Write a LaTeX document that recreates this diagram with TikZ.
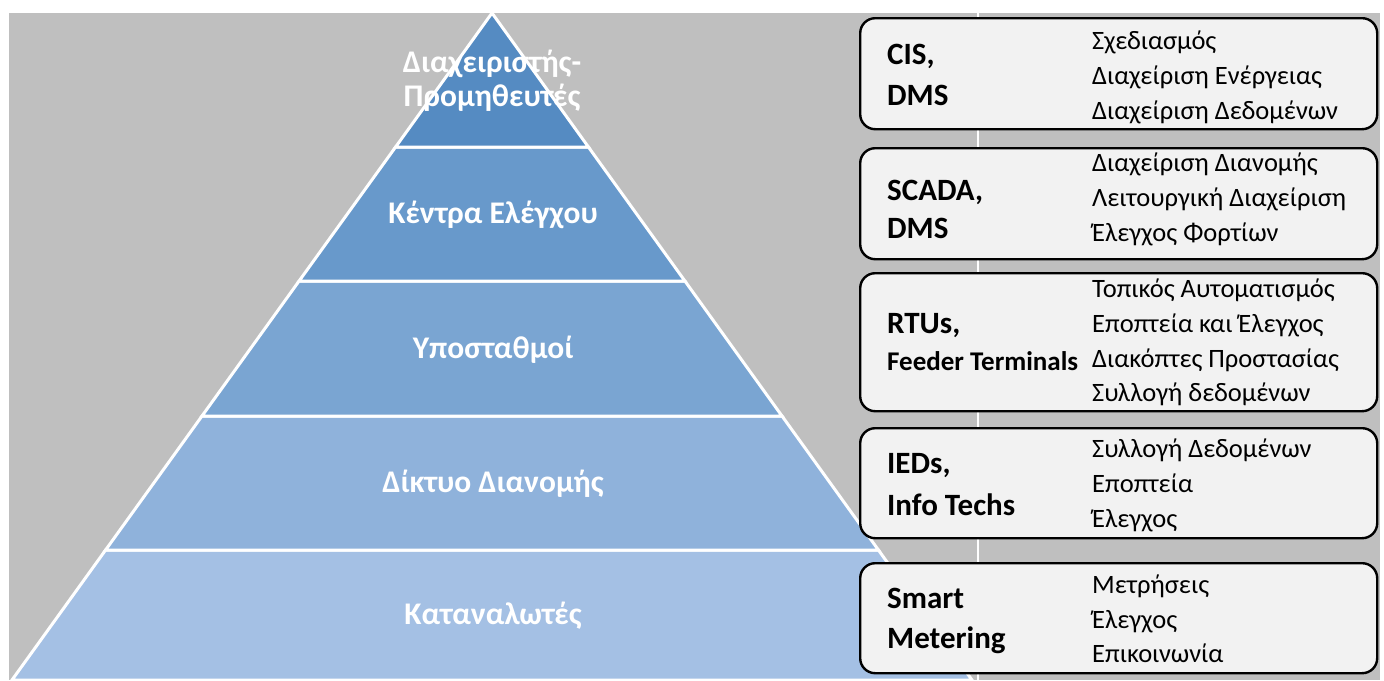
\documentclass[tikz,border=0pt]{standalone}
\usepackage{fontspec}
\setmainfont{Carlito}
\definecolor{bggray}{HTML}{BFBFBF}
\definecolor{tierA}{HTML}{558BC2}
\definecolor{tierB}{HTML}{6899CB}
\definecolor{tierC}{HTML}{7AA5D2}
\definecolor{tierD}{HTML}{8FB2DB}
\definecolor{tierE}{HTML}{A4C0E4}
\definecolor{boxfill}{HTML}{F2F2F2}
\begin{document}
\begin{tikzpicture}[x=1pt,y=-1pt,
  tier/.style={draw=white, line width=3pt, line join=miter},
  tierlabel/.style={text=white, font=\bfseries\fontsize{31.5}{34}\selectfont, anchor=base, inner sep=0pt, align=center},
  infobox/.style={draw=black, fill=boxfill, line width=2.4pt, rounded corners=15pt, anchor=north west, minimum width=517pt, inner sep=0pt},
  techlabel/.style={font=\bfseries\fontsize{31}{36}\selectfont, anchor=base west, inner sep=0pt},
  smalltech/.style={font=\bfseries\fontsize{27}{30}\selectfont, anchor=base west, inner sep=0pt},
  funclabel/.style={font=\fontsize{26.5}{30}\selectfont, anchor=base west, inner sep=0pt}
]
\useasboundingbox (0,0) rectangle (1384,680);
\fill[white] (0,0) rectangle (1384,680);
\fill[bggray] (9,13) rectangle (1380,680);
\coordinate (vtop) at (978,13);
\coordinate (vbot) at (978,680);
\draw[white, line width=1.5pt] (vtop) -- (vbot);

% pyramid corner points
\coordinate (apex) at (492,13);
\coordinate (l1) at (395.6,147); \coordinate (r1) at (588.4,147);
\coordinate (l2) at (299.1,281); \coordinate (r2) at (684.9,281);
\coordinate (l3) at (202.0,416); \coordinate (r3) at (782.0,416);
\coordinate (l4) at (105.6,550); \coordinate (r4) at (878.4,550);
\coordinate (l5) at (12.0,680);  \coordinate (r5) at (972.0,680);

\begin{scope}
\clip (0,0) rectangle (1384,680);
\draw[tier, fill=tierE] (l4) -- (r4) -- (r5) -- (l5) -- cycle;
\draw[tier, fill=tierD] (l3) -- (r3) -- (r4) -- (l4) -- cycle;
\draw[tier, fill=tierC] (l2) -- (r2) -- (r3) -- (l3) -- cycle;
\draw[tier, fill=tierB] (l1) -- (r1) -- (r2) -- (l2) -- cycle;
\draw[tier, fill=tierA] (apex) -- (r1) -- (l1) -- cycle;
\end{scope}

\node[tierlabel] (t1a) at (492,72) {Διαχειριστής-};
\node[tierlabel] (t1b) at (492,106) {Προμηθευτές};
\node[tierlabel] (t2) at (493,223) {Κέντρα Ελέγχου};
\node[tierlabel] (t3) at (493,358) {Υποσταθμοί};
\node[tierlabel] (t4) at (493,492) {Δίκτυο Διανομής};
\node[tierlabel] (t5) at (493,624) {Καταναλωτές};

% boxes
\node[infobox, minimum height=111pt] (b1) at (859,17) {};
\node[infobox, minimum height=111pt] (b2) at (859,147) {};
\node[infobox, minimum height=138pt] (b3) at (859,272) {};
\node[infobox, minimum height=110pt] (b4) at (859,427) {};
\node[infobox, minimum height=110pt] (b5) at (859,562) {};

% box 1
\node[techlabel] (c1a) at (887,64) {CIS,};
\node[techlabel] (c1b) at (887,105) {DMS};
\node[funclabel] (f1a) at (1092,49) {Σχεδιασμός};
\node[funclabel] (f1b) at (1092,84) {Διαχείριση Ενέργειας};
\node[funclabel] (f1c) at (1092,119) {Διαχείριση Δεδομένων};
% box 2
\node[techlabel] (c2a) at (887,200) {SCADA,};
\node[techlabel] (c2b) at (887,238) {DMS};
\node[funclabel] (f2a) at (1092,171) {Διαχείριση Διανομής};
\node[funclabel] (f2b) at (1092,206) {Λειτουργική Διαχείριση};
\node[funclabel] (f2c) at (1092,241) {Έλεγχος Φορτίων};
% box 3
\node[techlabel] (c3a) at (887,333) {RTUs,};
\node[smalltech] (c3b) at (887,370) {Feeder Terminals};
\node[funclabel] (f3a) at (1092,297) {Τοπικός Αυτοματισμός};
\node[funclabel] (f3b) at (1092,332) {Εποπτεία και Έλεγχος};
\node[funclabel] (f3c) at (1092,367) {Διακόπτες Προστασίας};
\node[funclabel] (f3d) at (1092,401) {Συλλογή δεδομένων};
% box 4
\node[techlabel] (c4a) at (887,473) {IEDs,};
\node[techlabel] (c4b) at (887,515) {Info Techs};
\node[funclabel] (f4a) at (1092,457) {Συλλογή Δεδομένων};
\node[funclabel] (f4b) at (1092,492) {Εποπτεία};
\node[funclabel] (f4c) at (1092,527) {Έλεγχος};
% box 5
\node[techlabel] (c5a) at (887,608) {Smart};
\node[techlabel] (c5b) at (887,648) {Metering};
\node[funclabel] (f5a) at (1092,593) {Μετρήσεις};
\node[funclabel] (f5b) at (1092,628) {Έλεγχος};
\node[funclabel] (f5c) at (1092,662) {Επικοινωνία};
\end{tikzpicture}
\end{document}
